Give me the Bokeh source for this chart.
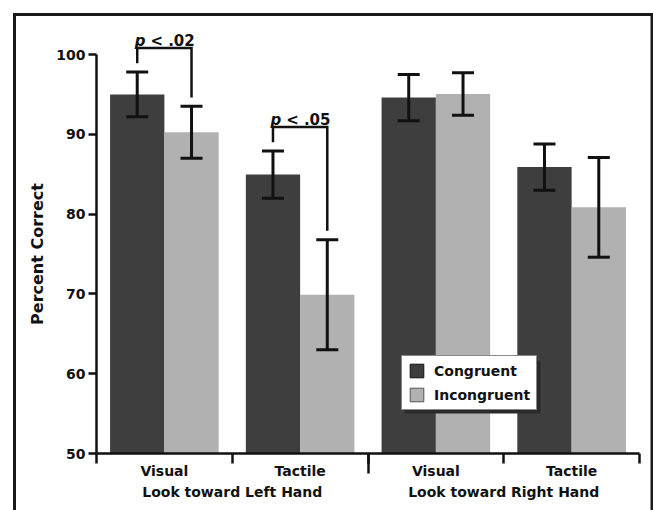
import numpy as np
from bokeh.plotting import figure
from bokeh.models import (Range1d, LinearAxis, FixedTicker, ColumnDataSource,
                          Whisker, TeeHead, Legend, LegendItem)
from bokeh.core.properties import value
from bokeh.embed import file_html
from bokeh.resources import INLINE

# ---------------- data ----------------
categories = ["Visual", "Tactile", "Visual", "Tactile"]
groups = ["Look toward Left Hand", "Look toward Right Hand"]
congruent = [95.0, 84.95, 94.6, 85.9]
congruent_err = [2.8, 2.95, 2.9, 2.9]
incongruent = [90.25, 69.9, 95.05, 80.85]
incongruent_err = [3.25, 6.9, 2.65, 6.25]
sig_index = [0, 1]
sig_text = ["< .02", "< .05"]
y_ticks = [50, 60, 70, 80, 90, 100]

# ---------------- layout / style ----------------
W, H = 653, 510
FONT = "DejaVu Sans"
DARK = "#3e3e3e"
LIGHT = "#b1b1b1"
INK = "#111111"

n = len(categories)
X0 = 96.0            # canvas px of x = 0
PX_X = 543.0 / n     # px per category
Y50 = 453.0          # canvas px of y = 50
PX_Y = 399.0 / 50.0  # px per percent


def dx(px):
    return (px - X0) / PX_X


def dy(py):
    return y_ticks[0] + (Y50 - py) / PX_Y


p = figure(width=W, height=H,
           x_range=Range1d(dx(0), dx(W)), y_range=Range1d(dy(H), dy(0)),
           output_backend="svg", toolbar_location=None,
           x_axis_location=None, y_axis_location=None,
           min_border=0, min_border_left=0, min_border_right=0,
           min_border_top=0, min_border_bottom=0)
p.outline_line_color = None
p.title.visible = False
p.background_fill_color = "white"
p.border_fill_color = "white"
for g in p.grid:
    g.visible = False

centers = np.arange(n) + 0.5
bw = 0.4
x_con = centers - bw / 2
x_inc = centers + bw / 2

# outer frame (open at the bottom)
p.multi_line(xs=[[dx(14), dx(14), dx(651.5), dx(651.5)]],
             ys=[[dy(H), dy(14), dy(14), dy(H)]],
             line_color="#1a1a1a", line_width=3, line_join="miter")

# bars
r_con = p.vbar(x=x_con, top=congruent, bottom=y_ticks[0], width=bw, fill_color=DARK, line_color=None)
r_inc = p.vbar(x=x_inc, top=incongruent, bottom=y_ticks[0], width=bw, fill_color=LIGHT, line_color=None)

# error bars
xs_all = list(x_con) + list(x_inc)
vals = congruent + incongruent
errs = congruent_err + incongruent_err
err_src = ColumnDataSource(dict(
    base=xs_all,
    upper=[v + e for v, e in zip(vals, errs)],
    lower=[v - e for v, e in zip(vals, errs)],
))
wh = Whisker(base="base", upper="upper", lower="lower", source=err_src,
             line_color=INK, line_width=3, level="annotation",
             upper_head=TeeHead(size=22, line_color=INK, line_width=3),
             lower_head=TeeHead(size=22, line_color=INK, line_width=3))
p.add_layout(wh)

# significance brackets
br_xs, br_ys, br_mid, br_top = [], [], [], []
for i in sig_index:
    tc = congruent[i] + congruent_err[i]
    ti = incongruent[i] + incongruent_err[i]
    yb = max(tc, ti) + 3.0
    br_xs.append([x_con[i], x_con[i], x_inc[i], x_inc[i]])
    br_ys.append([tc + 1.1, yb, yb, ti + 1.1])
    br_mid.append(centers[i])
    br_top.append(yb)
p.multi_line(xs=br_xs, ys=br_ys, line_color=INK, line_width=2.5, line_join="miter")
p.text(x=br_mid, y=br_top, text=["p"] * len(br_mid),
       text_font=value(FONT), text_font_style="bold italic", text_font_size="15px",
       text_color=INK, text_align="right", text_baseline="alphabetic",
       x_offset=-19, y_offset=-7)
p.text(x=br_mid, y=br_top, text=sig_text,
       text_font=value(FONT), text_font_style="bold", text_font_size="15px",
       text_color=INK, text_align="left", text_baseline="alphabetic",
       x_offset=-14, y_offset=-7)

# legend (with drop shadow)
LEG_X, LEG_Y = 401, 100          # screen px from the bottom-left corner
LEG_W, LEG_H = 136, 53
p.quad(left=[dx(LEG_X + 3)], right=[dx(LEG_X + LEG_W + 3)],
       top=[dy(H - LEG_Y - LEG_H + 3)], bottom=[dy(H - LEG_Y + 3)],
       fill_color="#2a2a2a", line_color=None)
lg_con = p.vbar(x=[np.nan], top=[np.nan], width=bw, fill_color=DARK, line_color=INK, line_width=1)
lg_inc = p.vbar(x=[np.nan], top=[np.nan], width=bw, fill_color=LIGHT, line_color="#555555", line_width=1)
legend = Legend(items=[LegendItem(label="Congruent", renderers=[lg_con]),
                       LegendItem(label="Incongruent", renderers=[lg_inc])],
                location=(LEG_X, LEG_Y), orientation="vertical",
                padding=6, spacing=7, glyph_width=17, glyph_height=17,
                label_height=17, label_standoff=9,
                label_text_font=FONT, label_text_font_style="bold",
                label_text_font_size="14px", label_text_color=INK,
                border_line_color=INK, border_line_width=1.5,
                background_fill_color="white", background_fill_alpha=1.0)
p.add_layout(legend, "center")

# y axis
yax = LinearAxis(fixed_location=0, bounds=(y_ticks[0], y_ticks[-1]),
                 ticker=FixedTicker(ticks=y_ticks, minor_ticks=[]),
                 axis_label="Percent Correct",
                 axis_label_text_font=FONT, axis_label_text_font_style="bold",
                 axis_label_text_font_size="16px", axis_label_text_color=INK,
                 axis_label_standoff=6,
                 major_label_text_font=FONT, major_label_text_font_style="bold",
                 major_label_text_font_size="14px", major_label_text_color=INK,
                 major_label_standoff=3,
                 axis_line_color=INK, axis_line_width=2.5,
                 major_tick_line_color=INK, major_tick_line_width=2.5,
                 major_tick_out=8, major_tick_in=0,
                 minor_tick_line_color=None)
p.add_layout(yax, "left")

# x axis: category labels + boundary ticks
xax = LinearAxis(fixed_location=y_ticks[0], bounds=(0, n),
                 ticker=FixedTicker(ticks=list(centers), minor_ticks=list(range(n + 1))),
                 major_label_overrides={float(c): lab for c, lab in zip(centers, categories)},
                 major_label_text_font=FONT, major_label_text_font_style="bold",
                 major_label_text_font_size="14px", major_label_text_color=INK,
                 major_label_standoff=-1,
                 axis_line_color=INK, axis_line_width=2.5,
                 major_tick_line_color=None, major_tick_out=0, major_tick_in=0,
                 minor_tick_line_color=INK, minor_tick_line_width=2.5,
                 minor_tick_out=10, minor_tick_in=0)
p.add_layout(xax, "below")

# x axis: group divider tick
gsize = n // len(groups)
div_ticks = [gsize * k for k in range(1, len(groups))]
dax = LinearAxis(fixed_location=y_ticks[0],
                 ticker=FixedTicker(ticks=div_ticks, minor_ticks=[]),
                 major_label_overrides={t: "" for t in div_ticks},
                 axis_line_color=None,
                 major_tick_line_color=INK, major_tick_line_width=2.5,
                 major_tick_out=20, major_tick_in=0,
                 minor_tick_line_color=None)
p.add_layout(dax, "below")

# x axis: group labels
g_centers = [gsize * k + gsize / 2 for k in range(len(groups))]
gax = LinearAxis(fixed_location=y_ticks[0],
                 ticker=FixedTicker(ticks=g_centers, minor_ticks=[]),
                 major_label_overrides={c: lab for c, lab in zip(g_centers, groups)},
                 major_label_text_font=FONT, major_label_text_font_style="bold",
                 major_label_text_font_size="14px", major_label_text_color=INK,
                 major_label_standoff=30,
                 axis_line_color=None,
                 major_tick_line_color=None, major_tick_out=0, major_tick_in=0,
                 minor_tick_line_color=None)
p.add_layout(gax, "below")

open("out.html", "w").write(file_html(p, INLINE))
